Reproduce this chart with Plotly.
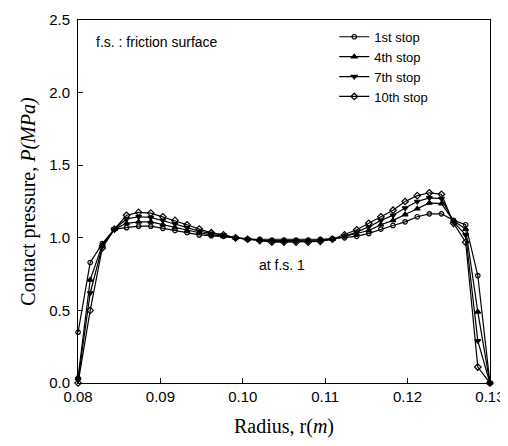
import numpy as np
import plotly.graph_objects as go

radius = list(np.linspace(0.08, 0.13, 35))

stop1 = [0.35, 0.83, 0.96, 1.06, 1.07, 1.08, 1.08, 1.065, 1.05, 1.035, 1.02, 1.015,
         1.01, 1.00, 0.99, 0.99, 0.985, 0.985, 0.985, 0.985, 0.99, 0.995, 1.00,
         1.01, 1.03, 1.06, 1.085, 1.11, 1.145, 1.165, 1.165, 1.12, 1.09, 0.74, 0.0]
stop4 = [0.04, 0.71, 0.95, 1.06, 1.10, 1.11, 1.11, 1.09, 1.07, 1.05, 1.035, 1.02,
         1.01, 1.00, 0.99, 0.985, 0.98, 0.98, 0.98, 0.98, 0.985, 0.99, 1.01,
         1.025, 1.05, 1.09, 1.12, 1.16, 1.20, 1.24, 1.235, 1.115, 1.06, 0.49, 0.0]
stop7 = [0.02, 0.62, 0.94, 1.06, 1.13, 1.145, 1.14, 1.12, 1.095, 1.07, 1.045, 1.03,
         1.02, 1.00, 0.99, 0.98, 0.975, 0.975, 0.975, 0.975, 0.98, 0.99, 1.01,
         1.04, 1.075, 1.12, 1.155, 1.205, 1.25, 1.275, 1.27, 1.11, 1.02, 0.29, 0.0]
stop10 = [0.0, 0.50, 0.93, 1.06, 1.155, 1.175, 1.17, 1.145, 1.12, 1.09, 1.06, 1.035,
          1.02, 1.00, 0.99, 0.98, 0.97, 0.97, 0.97, 0.97, 0.975, 0.99, 1.02,
          1.055, 1.10, 1.145, 1.19, 1.25, 1.29, 1.31, 1.30, 1.10, 0.97, 0.11, 0.0]

series_names = ["1st stop", "4th stop", "7th stop", "10th stop"]
x_ticks = [0.08, 0.09, 0.10, 0.11, 0.12, 0.13]
x_tick_labels = ["0.08", "0.09", "0.10", "0.11", "0.12", "0.13"]
y_ticks = [0.0, 0.5, 1.0, 1.5, 2.0, 2.5]
y_tick_labels = ["0.0", "0.5", "1.0", "1.5", "2.0", "2.5"]

symbols = ["circle-open", "triangle-up", "triangle-down", "diamond-open"]
sizes = [4.5, 5, 5, 5]

SANS = "Liberation Sans, Arial"
SERIF = "Liberation Serif, Times New Roman"

fig = go.Figure()
for name, ys, sym, sz in zip(series_names, [stop1, stop4, stop7, stop10], symbols, sizes):
    fig.add_trace(go.Scatter(
        x=radius, y=ys, name=name, mode="lines+markers",
        line=dict(color="black", width=1.2),
        marker=dict(symbol=sym, size=sz, color="black", line=dict(color="black", width=1.2)),
        cliponaxis=False,
    ))

fig.update_layout(
    width=500, height=430,
    margin=dict(l=70, r=18, t=12, b=55),
    paper_bgcolor="white", plot_bgcolor="white",
    font=dict(family=SANS, color="black", size=14),
    showlegend=True,
    legend=dict(x=0.622, y=0.995, xanchor="left", yanchor="top",
                bgcolor="rgba(0,0,0,0)", font=dict(size=13, family=SANS),
                tracegroupgap=0, itemwidth=30),
    xaxis=dict(range=[0.07999, 0.13001], tickvals=x_ticks, ticktext=x_tick_labels,
               automargin=False,
               showgrid=False, zeroline=False, showline=True, linecolor="black", linewidth=1,
               mirror=True, ticks="inside", ticklen=5, tickcolor="black",
               tickfont=dict(size=15, family=SANS), ticklabeloverflow="allow",
               title=dict(text="Radius, r(<i>m</i>)", font=dict(size=20, family=SERIF), standoff=16)),
    yaxis=dict(range=[0, 2.5], tickvals=y_ticks, ticktext=y_tick_labels,
               automargin=False,
               showgrid=False, zeroline=False, showline=True, linecolor="black", linewidth=1,
               mirror=True, ticks="inside", ticklen=5, tickcolor="black",
               tickfont=dict(size=15, family=SANS), ticklabelstandoff=4,
               title=dict(text="Contact pressure, <i>P(MPa)</i>", font=dict(size=20, family=SERIF), standoff=8)),
    annotations=[
        dict(text="f.s. : friction surface", xref="paper", yref="paper", x=0.04, y=0.94,
             xanchor="left", yanchor="middle", showarrow=False, font=dict(size=14)),
        dict(text="at f.s. 1", xref="x", yref="y", x=0.1047, y=0.815,
             xanchor="center", yanchor="middle", showarrow=False, font=dict(size=14)),
    ],
)

fig.write_html("out.html")
